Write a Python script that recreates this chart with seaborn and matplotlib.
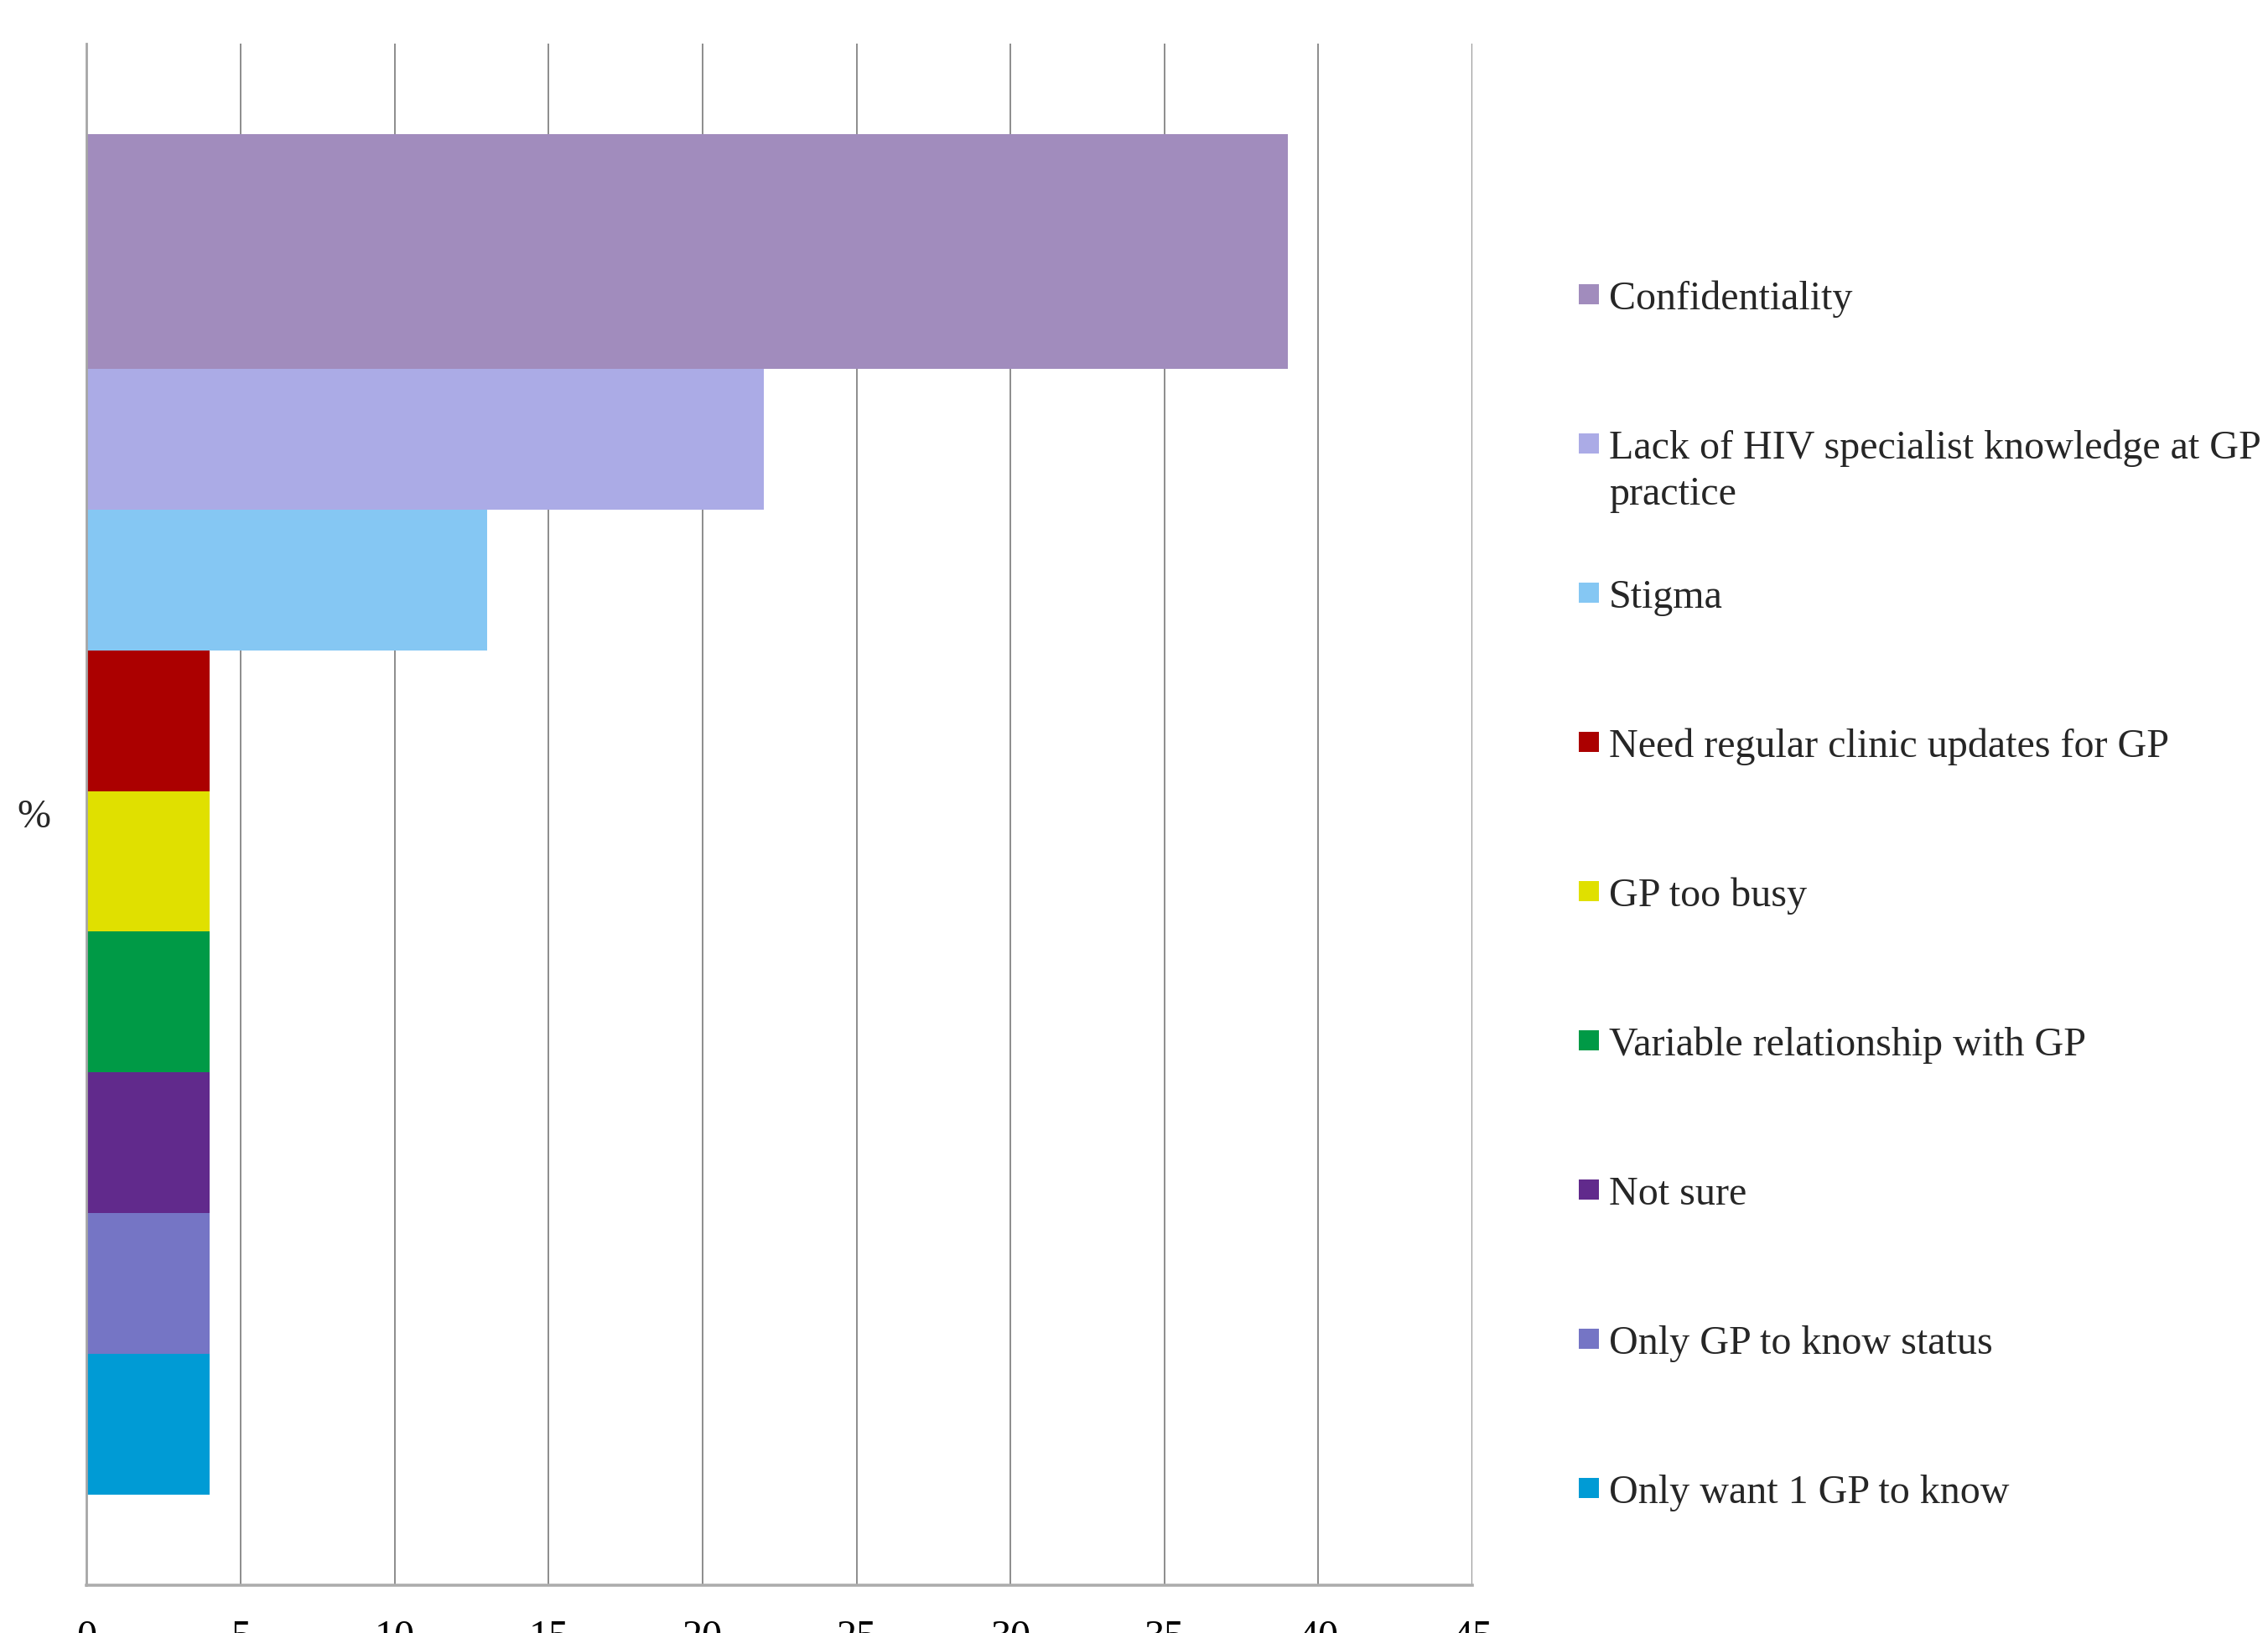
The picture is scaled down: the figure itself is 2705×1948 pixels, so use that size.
import matplotlib
matplotlib.use("Agg")
import matplotlib.pyplot as plt
import seaborn as sns
import pandas as pd
import numpy as np
from matplotlib.patches import Rectangle

# Reasons given, share of respondents (%)
categories = [
    "Confidentiality",
    "Lack of HIV specialist knowledge at GP\npractice",
    "Stigma",
    "Need regular clinic updates for GP",
    "GP too busy",
    "Variable relationship with GP",
    "Not sure",
    "Only GP to know status",
    "Only want 1 GP to know",
]
values = [39, 22, 13, 4, 4, 4, 4, 4, 4]
colors = ["#A18CBD", "#ABABE6", "#85C7F3", "#AB0000", "#E0E000",
          "#009A46", "#612A8C", "#7575C5", "#009BD5"]
x_ticks = [0, 5, 10, 15, 20, 25, 30, 35, 40, 45]

# relative thickness of each bar band (the first band is wider)
band = [5 / 3, 1, 1, 1, 1, 1, 1, 1, 1]

sns.set_style("white")
plt.rcParams["font.family"] = ["Liberation Serif", "DejaVu Serif"]

W, H = 2705, 1949
fig = plt.figure(figsize=(W / 100, H / 100), dpi=100)
ax = fig.add_axes([103.5 / W, 57 / H, (1756 - 103.5) / W, (1892 - 53) / H])

df = pd.DataFrame({"reason": categories, "pct": values})
sns.barplot(data=df, x="pct", y="reason", hue="reason", palette=colors,
            orient="h", width=1.0, legend=False, ax=ax, linewidth=0,
            saturation=1)

# restack the bars so that each occupies its own band thickness
edges = np.concatenate([[0], np.cumsum(band)])
for patch, lo, hi in zip(ax.patches, edges[:-1], edges[1:]):
    patch.set_y(lo)
    patch.set_height(hi - lo)

pad = 0.64
ax.set_ylim(edges[-1] + pad, -pad)
ax.set_xlim(0, 45)
ax.set_xticks(x_ticks)
ax.set_xticklabels([str(t) for t in x_ticks])
ax.set_yticks([])
ax.set_ylabel("")
ax.set_xlabel("")

ax.grid(axis="x", color="#8C8C8C", linewidth=1.4)
ax.set_axisbelow(True)
for s in ["top", "right"]:
    ax.spines[s].set_visible(False)
ax.spines["left"].set_color("#A6A6A6")
ax.spines["left"].set_linewidth(2.0)
ax.spines["bottom"].set_color("#ADADAD")
ax.spines["bottom"].set_linewidth(2.6)
ax.tick_params(axis="x", length=0, pad=29, labelsize=34.6, colors="black")

fig.text(40 / W, 1 - 975 / H, "%", fontsize=34.6, ha="center", va="center")

# legend entries, one per reason
y0, step = 352, 178
for i, (lab, col) in enumerate(zip(categories, colors)):
    yc = y0 + i * step
    fig.patches.append(Rectangle((1883 / W, 1 - (yc + 12) / H), 24 / W, 24 / H,
                                 transform=fig.transFigure, facecolor=col,
                                 edgecolor="none"))
    lines = lab.split("\n")
    for j, line in enumerate(lines):
        fig.text(1919 / W, 1 - (yc + j * 55) / H, line, fontsize=34.6,
                 ha="left", va="center_baseline")

fig.savefig("out.png", dpi=100, facecolor="white")
